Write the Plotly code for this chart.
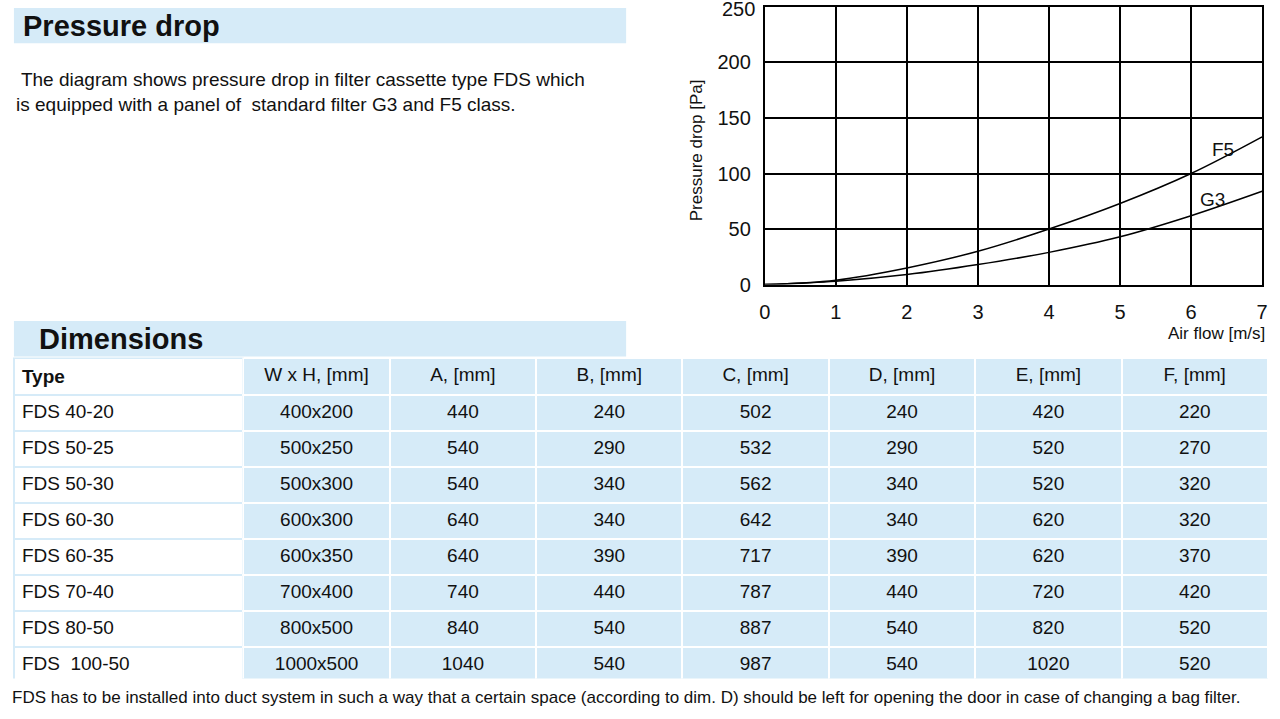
import plotly.graph_objects as go

# pressure drop curves
air_flow = [0, 1, 2, 3, 4, 5, 6, 7]
f5_drop = [0, 4, 15, 30, 50, 73, 100, 133]
g3_drop = [0, 3, 9, 18, 29, 43, 62, 84]

types = ['FDS 40-20', 'FDS 50-25', 'FDS 50-30', 'FDS 60-30', 'FDS 60-35',
         'FDS 70-40', 'FDS 80-50', 'FDS  100-50']
wxh = ['400x200', '500x250', '500x300', '600x300', '600x350', '700x400', '800x500', '1000x500']
dim_a = [440, 540, 540, 640, 640, 740, 840, 1040]
dim_b = [240, 290, 340, 340, 390, 440, 540, 540]
dim_c = [502, 532, 562, 642, 717, 787, 887, 987]
dim_d = [240, 290, 340, 340, 390, 440, 540, 540]
dim_e = [420, 520, 520, 620, 620, 720, 820, 1020]
dim_f = [220, 270, 320, 320, 370, 420, 520, 520]
headers = ['<b>Type</b>', 'W x H, [mm]', 'A, [mm]', 'B, [mm]', 'C, [mm]',
           'D, [mm]', 'E, [mm]', 'F, [mm]']

W, H = 1280, 719
blue = '#d6ebf8'
font = 'Liberation Sans, Arial, sans-serif'


def px(x):
    return x / W


def py(y):
    return 1 - y / H


fig = go.Figure()
fig.add_trace(go.Scatter(x=air_flow, y=f5_drop, mode='lines', line=dict(color='black', width=1.5, shape='spline')))
fig.add_trace(go.Scatter(x=air_flow, y=g3_drop, mode='lines', line=dict(color='black', width=1.5, shape='spline')))

fig.add_trace(go.Table(
    domain=dict(x=[px(8), px(1274)], y=[py(689), py(364)]),
    columnwidth=[232] + [148] * 7,
    header=dict(values=headers, height=36, align=['left'] + ['center'] * 7,
                fill_color=['white'] + [blue] * 7,
                line=dict(color=[blue] + ['white'] * 7, width=2),
                font=dict(family=font, size=19, color='#111')),
    cells=dict(values=[types, wxh, dim_a, dim_b, dim_c, dim_d, dim_e, dim_f], height=36,
               align=['left'] + ['center'] * 7,
               fill_color=['white'] + [blue] * 7,
               line=dict(color=[blue] + ['white'] * 7, width=2),
               font=dict(family=font, size=19, color='#111')),
))

fig.update_layout(
    autosize=True, margin=dict(l=0, r=0, t=0, b=0),
    paper_bgcolor='white', plot_bgcolor='white', showlegend=False,
    font=dict(family=font, color='#111'),
    xaxis=dict(domain=[px(766), px(1268)], range=[0, 7], dtick=1, showgrid=True, gridcolor='black',
               gridwidth=2, showline=True, linecolor='black', linewidth=2, mirror=True,
               zeroline=False, ticks='', tickfont=dict(size=20), ticklabelstandoff=8),
    yaxis=dict(domain=[py(289), py(7)], range=[0, 250], tickvals=[0, 50, 100, 150, 200, 250],
               showgrid=True, gridcolor='black',
               gridwidth=2, showline=True, linecolor='black', linewidth=2, mirror=True,
               zeroline=False, ticks='', tickfont=dict(size=20), ticklabelstandoff=8),
    shapes=[
        dict(type='rect', xref='paper', yref='paper', x0=px(8), x1=px(626), y0=py(44), y1=py(8),
             fillcolor=blue, line_width=0, layer='below'),
        dict(type='rect', xref='paper', yref='paper', x0=px(8), x1=px(626), y0=py(362), y1=py(326),
             fillcolor=blue, line_width=0, layer='below'),
    ],
    annotations=[
        dict(text='250', x=px(766), y=250, xref='paper', yref='y', xanchor='right', yanchor='middle',
             xshift=-8, yshift=-2, showarrow=False, font=dict(size=20)),
        dict(text='<b>Pressure drop</b>', x=px(15), y=py(26), xref='paper', yref='paper',
             xanchor='left', yanchor='middle', showarrow=False, font=dict(size=29)),
        dict(text=' The diagram shows pressure drop in filter cassette type FDS which<br>is equipped with a panel of  standard filter G3 and F5 class.',
             x=px(8), y=py(68), xref='paper', yref='paper', xanchor='left', yanchor='top',
             align='left', showarrow=False, font=dict(size=19)),
        dict(text='<b>Dimensions</b>', x=px(31), y=py(344), xref='paper', yref='paper',
             xanchor='left', yanchor='middle', showarrow=False, font=dict(size=29)),
        dict(text='Pressure drop [Pa]', x=px(697), y=py(78), xref='paper', yref='paper',
             textangle=-90, showarrow=False, font=dict(size=17)),
        dict(text='Air flow [m/s]', x=px(1273), y=py(339), xref='paper', yref='paper',
             xanchor='right', yanchor='middle', showarrow=False, font=dict(size=17)),
        dict(text='F5', x=6.45, y=122, showarrow=False, font=dict(size=19)),
        dict(text='G3', x=6.3, y=77, showarrow=False, font=dict(size=19)),
        dict(text='FDS has to be installed into duct system in such a way that a certain space (according to dim. D) should be left for opening the door in case of changing a bag filter.',
             x=px(4), y=py(708), xref='paper', yref='paper', xanchor='left', yanchor='middle',
             showarrow=False,
             font=dict(size=17, family='Liberation Sans Narrow, Arial Narrow, sans-serif')),
    ],
)

fig.write_html('out.html', default_width='100vw', default_height='100vh',
               config=dict(displayModeBar=False, responsive=True),
               post_script="document.body.style.margin='0';document.body.style.overflow='hidden';")
